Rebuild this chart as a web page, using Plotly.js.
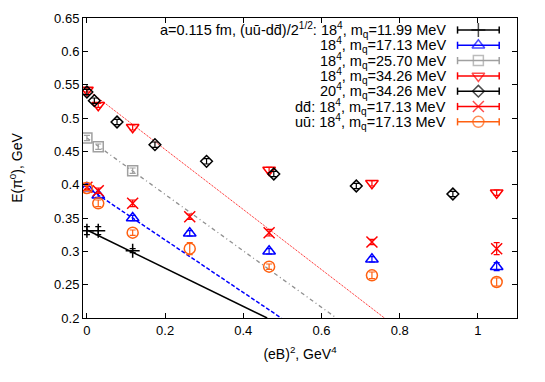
<!DOCTYPE html>
<html>
<head>
<meta charset="utf-8">
<script src="https://cdn.plot.ly/plotly-3.0.1.min.js"></script>
<style>
  html, body { margin: 0; padding: 0; background: #fff; }
  #plot { width: 545px; height: 382px; }
</style>
</head>
<body>
<div id="plot"></div>
<script>
// E(pi0) vs (eB)^2, lattice points with linear fits

// 18^4, mq = 11.99 MeV
const m1199X = [0, 0.029, 0.117];
const m1199Y = [0.331, 0.331, 0.301];
const m1199E = [0.006, 0.006, 0.003];

// 18^4, mq = 17.13 MeV
const m1713X = [0, 0.029, 0.117, 0.263, 0.466, 0.729, 1.048];
const m1713Y = [0.395, 0.384, 0.350, 0.327, 0.300, 0.288, 0.277];
const m1713E = [0.003, 0.003, 0.004, 0.004, 0.004, 0.004, 0.006];

// 18^4, mq = 25.70 MeV
const m2570X = [0, 0.029, 0.117];
const m2570Y = [0.470, 0.457, 0.421];
const m2570E = [0.004, 0.004, 0.004];

// 18^4, mq = 34.26 MeV
const m3426X = [0, 0.029, 0.117, 0.466, 0.729, 1.048];
const m3426Y = [0.542, 0.519, 0.486, 0.422, 0.402, 0.388];
const m3426E = [0.003, 0.003, 0.004, 0.004, 0.004, 0.004];

// 20^4, mq = 34.26 MeV
const l20X = [0, 0.019, 0.077, 0.174, 0.306, 0.478, 0.689, 0.936];
const l20Y = [0.539, 0.526, 0.494, 0.460, 0.435, 0.416, 0.398, 0.386];
const l20E = [0.004, 0.004, 0.004, 0.004, 0.004, 0.004, 0.004, 0.004];

// d dbar, 18^4, mq = 17.13 MeV
const ddX = [0, 0.029, 0.117, 0.263, 0.466, 0.729, 1.048];
const ddY = [0.396, 0.391, 0.372, 0.352, 0.328, 0.314, 0.304];
const ddE = [0.003, 0.004, 0.005, 0.004, 0.005, 0.004, 0.009];

// u ubar, 18^4, mq = 17.13 MeV
const uuX = [0, 0.029, 0.117, 0.263, 0.466, 0.729, 1.048];
const uuY = [0.395, 0.372, 0.328, 0.304, 0.277, 0.264, 0.254];
const uuE = [0.004, 0.005, 0.004, 0.009, 0.004, 0.005, 0.006];

// linear fits (end points)
const fit1199X = [0, 0.461], fit1199Y = [0.332, 0.2];
const fit1713X = [0, 0.497], fit1713Y = [0.396, 0.2];
const fit2570X = [0, 0.638], fit2570Y = [0.470, 0.2];
const fit3426X = [0, 0.761], fit3426Y = [0.543, 0.2];

const xTicks = [0, 0.2, 0.4, 0.6, 0.8, 1];
const yTicks = [0.2, 0.25, 0.3, 0.35, 0.4, 0.45, 0.5, 0.55, 0.6, 0.65];

const legendLabels = [
    'a=0.115 fm, (uū-dd\u0304)/2<sup>1/2</sup>: 18<sup>4</sup>, m<sub>q</sub>=11.99 MeV',
    '18<sup>4</sup>, m<sub>q</sub>=17.13 MeV',
    '18<sup>4</sup>, m<sub>q</sub>=25.70 MeV',
    '18<sup>4</sup>, m<sub>q</sub>=34.26 MeV',
    '20<sup>4</sup>, m<sub>q</sub>=34.26 MeV',
    'dd\u0304: 18<sup>4</sup>, m<sub>q</sub>=17.13 MeV',
    'uū: 18<sup>4</sup>, m<sub>q</sub>=17.13 MeV',
];

const FONT = 'Liberation Sans, Arial, Helvetica, sans-serif';
const BLACK = '#000000', BLUE = '#0000ff', GRAY = '#a0a0a0',
      RED = '#ff0000', ORANGE = '#ff6010';

const series = [
    { x: m1199X, y: m1199Y, e: m1199E, color: BLACK,  symbol: 'cross-thin-open',    size: 10 },
    { x: m1713X, y: m1713Y, e: m1713E, color: BLUE,   symbol: 'triangle-up-open',   size: 11 },
    { x: m2570X, y: m2570Y, e: m2570E, color: GRAY,   symbol: 'square-open',        size: 10 },
    { x: m3426X, y: m3426Y, e: m3426E, color: RED,    symbol: 'triangle-down-open', size: 11 },
    { x: l20X,   y: l20Y,   e: l20E,   color: BLACK,  symbol: 'diamond-open',       size: 9 },
    { x: ddX,    y: ddY,    e: ddE,    color: RED,    symbol: 'x-thin-open',        size: 11 },
    { x: uuX,    y: uuY,    e: uuE,    color: ORANGE, symbol: 'circle-open',        size: 11 },
];

const fits = [
    { x: fit1199X, y: fit1199Y, color: BLACK,     dash: 'solid',   width: 1.5 },
    { x: fit1713X, y: fit1713Y, color: BLUE,      dash: '4px,2px', width: 1.5 },
    { x: fit2570X, y: fit2570Y, color: '#909090', dash: '4px,3px,1px,3px', width: 1.3 },
    { x: fit3426X, y: fit3426Y, color: RED,       dash: '1px,1px', width: 1 },
];

const traces = [];
fits.forEach(f => traces.push({
    x: f.x, y: f.y, type: 'scatter', mode: 'lines',
    line: { color: f.color, dash: f.dash, width: f.width },
    hoverinfo: 'skip', showlegend: false,
}));
series.forEach(s => traces.push({
    x: s.x, y: s.y, type: 'scatter', mode: 'markers',
    marker: { symbol: s.symbol, size: s.size, color: s.color, line: { color: s.color, width: 1.5 } },
    error_y: { type: 'data', array: s.e, visible: true, color: s.color, thickness: 1.2, width: 3 },
    showlegend: false,
}));

// gnuplot-style key: text right-aligned, sample to the right (paper-like overlay axes)
const KEY_TEXT_X = 0.841, KEY_X0 = 0.863, KEY_XM = 0.911, KEY_X1 = 0.959;
const KEY_TOP = 0.96, KEY_STEP = 0.051, KEY_CAP = 0.012;
const annotations = [];
series.forEach((s, i) => {
    const yy = KEY_TOP - i * KEY_STEP;
    traces.push({
        x: [KEY_X0, KEY_XM, KEY_X1], y: [yy, yy, yy],
        xaxis: 'x2', yaxis: 'y2', type: 'scatter', mode: 'lines+markers',
        line: { color: s.color, width: 1.5 },
        marker: { symbol: s.symbol, size: [0, s.size, 0], color: s.color,
                  line: { color: s.color, width: 1.5 } },
        error_y: { type: 'data', array: [KEY_CAP, 0, KEY_CAP], visible: true,
                   color: s.color, thickness: 1.5, width: 0 },
        hoverinfo: 'skip', showlegend: false,
    });
    annotations.push({
        xref: 'paper', yref: 'paper', x: KEY_TEXT_X, y: yy,
        xanchor: 'right', yanchor: 'middle', showarrow: false,
        text: legendLabels[i], font: { family: FONT, size: 14.5, color: BLACK },
    });
});

const axisCommon = {
    showline: true, linecolor: BLACK, linewidth: 1, mirror: 'ticks',
    ticks: 'inside', ticklen: 5, tickcolor: BLACK, tickwidth: 1,
    showgrid: false, zeroline: false,
    tickfont: { family: FONT, size: 13, color: BLACK },
};

const layout = {
    width: 545, height: 382,
    paper_bgcolor: '#ffffff', plot_bgcolor: '#ffffff',
    font: { family: FONT, size: 13, color: BLACK },
    margin: { l: 83, r: 28, t: 18, b: 64 },
    xaxis: Object.assign({}, axisCommon, {
        range: [-0.01, 1.1], tickvals: xTicks, ticktext: xTicks.map(String),
        title: { text: '(eB)<sup>2</sup>, GeV<sup>4</sup>', font: { family: FONT, size: 14 }, standoff: 12 },
    }),
    yaxis: Object.assign({}, axisCommon, {
        range: [0.2, 0.65], tickvals: yTicks, ticktext: yTicks.map(String),
        title: { text: 'E(π<sup>0</sup>), GeV', font: { family: FONT, size: 14 }, standoff: 28 },
    }),
    xaxis2: { overlaying: 'x', range: [0, 1], visible: false, fixedrange: true },
    yaxis2: { overlaying: 'y', range: [0, 1], visible: false, fixedrange: true },
    annotations,
    showlegend: false,
};

Plotly.newPlot('plot', traces, layout, { displayModeBar: false, staticPlot: true });
</script>
</body>
</html>
